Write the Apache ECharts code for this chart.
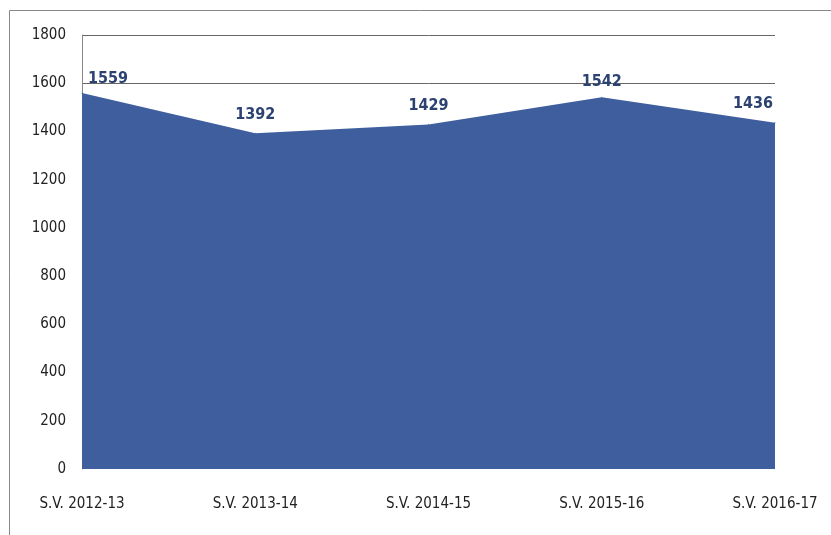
<!DOCTYPE html>
<html>
<head>
<meta charset="utf-8">
<style>
  html, body { margin: 0; padding: 0; background: #fff; }
  #container { width: 831px; height: 535px; }
</style>
<script src="https://cdn.jsdelivr.net/npm/echarts@6/dist/echarts.min.js"></script>
</head>
<body>
<div id="container"></div>
<script>
var categories = ['S.V. 2012-13', 'S.V. 2013-14', 'S.V. 2014-15', 'S.V. 2015-16', 'S.V. 2016-17'];
var values = [1559, 1392, 1429, 1542, 1436];
var yTicks = [0, 200, 400, 600, 800, 1000, 1200, 1400, 1600, 1800];
var visibleGridLines = [1600, 1800];

var dom = document.getElementById('container');
var myChart = echarts.init(dom, null, { renderer: 'canvas' });

var font = '"Liberation Sans Narrow", "DejaVu Sans Condensed", sans-serif';

// first / last labels sit inside the plot like in the picture
var seriesData = values.map(function (v, i) {
  var item = { value: v };
  if (i === 0) item.label = { align: 'left', padding: [0, 0, 0, 6], distance: 6 };
  if (i === values.length - 1) item.label = { align: 'right', padding: [0, 2, 0, 0] };
  if (i === 3) item.label = { distance: 7 };
  return item;
});

var option = {
  backgroundColor: '#fff',
  animation: false,
  graphic: [{
    type: 'rect',
    shape: { x: 9.5, y: 10.5, width: 840, height: 540 },
    style: { fill: 'none', stroke: '#888', lineWidth: 1 },
    silent: true
  }],
  grid: { left: 82, right: 56, top: 35, bottom: 66 },
  xAxis: {
    type: 'category',
    data: categories,
    boundaryGap: false,
    axisLine: { show: false },
    axisTick: { show: false },
    axisLabel: { margin: 28, fontFamily: font, fontSize: 15, color: '#222' }
  },
  yAxis: {
    type: 'value',
    min: yTicks[0],
    max: yTicks[yTicks.length - 1],
    interval: 200,
    axisLine: { show: true, lineStyle: { color: '#888', width: 1 } },
    axisTick: { show: false },
    axisLabel: {
      margin: 16, fontFamily: font, fontSize: 15, color: '#222',
      formatter: function (v) { return String(v); }
    },
    splitLine: { show: false }
  },
  series: [{
    type: 'line',
    data: seriesData,
    symbol: 'circle',
    symbolSize: 1,
    showSymbol: true,
    itemStyle: { color: '#3e5e9e' },
    lineStyle: { width: 0 },
    areaStyle: { color: '#3e5e9e', opacity: 1 },
    label: {
      show: true,
      position: 'top',
      distance: 10,
      fontFamily: font,
      fontSize: 16,
      fontWeight: 'bold',
      color: '#2c4272'
    },
    labelLayout: { hideOverlap: false },
    markLine: {
      silent: true,
      symbol: 'none',
      label: { show: false },
      lineStyle: { color: '#666', width: 1, type: 'solid' },
      data: visibleGridLines.map(function (y) { return { yAxis: y }; }),
      z: -1
    },
    z: 2
  }]
};

myChart.setOption(option);
window.addEventListener('resize', myChart.resize);
</script>
</body>
</html>
